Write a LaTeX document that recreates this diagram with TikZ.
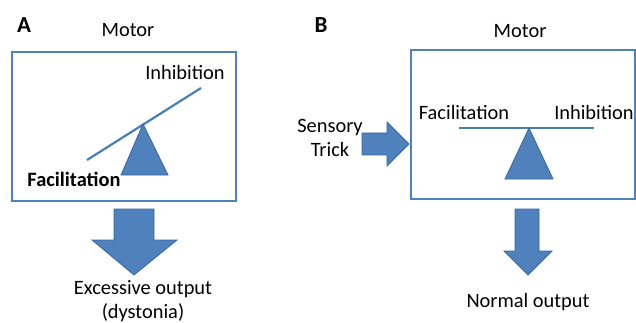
\documentclass[tikz,border=0pt]{standalone}
\usepackage{fontspec}
\setmainfont{Carlito}
\definecolor{ofill}{HTML}{4F81BD}
\definecolor{oedge}{HTML}{3A679E}
\definecolor{oline}{HTML}{4A7EBB}
\begin{document}
\begin{tikzpicture}[x=1pt,y=-1pt,
  lbl/.style={font=\fontsize{20.4}{24}\selectfont, inner sep=0pt, text=black},
  panel/.style={font=\fontsize{23}{27}\selectfont\bfseries, inner sep=0pt},
  frame/.style={draw=ofill, line width=1.8pt},
  beam/.style={draw=oline, line width=2.2pt},
  blockfill/.style={fill=ofill, draw=oedge, line width=0.8pt, line join=miter}]
\useasboundingbox (0,0) rectangle (636,323);
% ---------- Panel A ----------
\node[panel] (pA) at (24,25) {A};
\node[lbl] (motA) at (128,30) {Motor};
\draw[frame] (12,52) rectangle (236,201);
\coordinate (beamA1) at (87,160);
\coordinate (beamA2) at (201,88);
\draw[beam] (beamA1) -- (beamA2);
\draw[blockfill] (143,124) -- (168,175) -- (121,175) -- cycle;
\node[lbl] (inhA) at (185,72) {Inhibition};
\node[lbl, font=\fontsize{20.4}{24}\selectfont\bfseries] (facA) at (74,179) {Facilitation};
\draw[blockfill] (114,209) -- (154,209) -- (154,240) -- (177,240) -- (134,275)
  -- (92,240) -- (114,240) -- cycle;
\node[lbl] (outA1) at (143,289) {Excessive output};
\node[lbl] (outA2) at (143,313) {(dystonia)};
% ---------- Panel B ----------
\node[panel] (pB) at (321,25) {B};
\node[lbl] (motB) at (520,31) {Motor};
\draw[frame] (411,50) rectangle (635,199);
\coordinate (beamB1) at (459,128);
\coordinate (beamB2) at (594,128);
\draw[beam] (beamB1) -- (beamB2);
\draw[blockfill] (529,128) -- (553,179) -- (505,179) -- cycle;
\node[lbl] (facB) at (464,112) {Facilitation};
\node[lbl] (inhB) at (594,112) {Inhibition};
\node[lbl] (sens) at (330,128) {Sensory};
\node[lbl] (trick) at (330,149) {Trick};
\draw[blockfill] (362,133) -- (387,133) -- (387,122) -- (409,144) -- (387,166)
  -- (387,155) -- (362,155) -- cycle;
\draw[blockfill] (515,209) -- (539,209) -- (539,251) -- (552,251) -- (528,275)
  -- (504,251) -- (515,251) -- cycle;
\node[lbl] (outB) at (528,302) {Normal output};
\end{tikzpicture}
\end{document}
